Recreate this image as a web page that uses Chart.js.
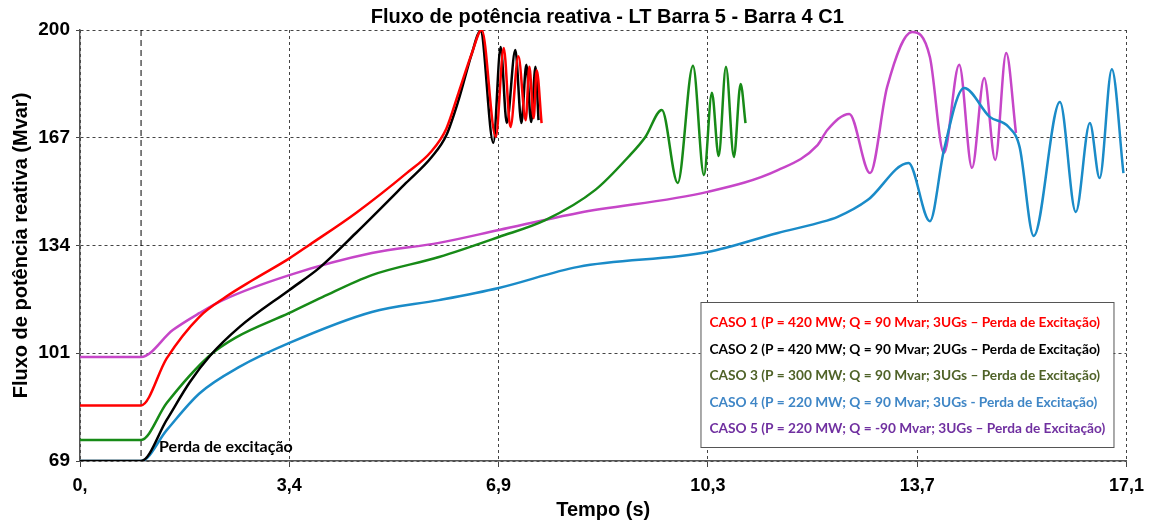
<!DOCTYPE html>
<html>
<head>
<meta charset="utf-8">
<script src="https://cdn.jsdelivr.net/npm/chart.js@4.4.1/dist/chart.umd.min.js"></script>
<style>
  html, body { margin: 0; padding: 0; background: #fff; }
  #wrap { width: 1152px; height: 522px; position: relative; }
</style>
</head>
<body>
<div id="wrap"><canvas id="chart"></canvas></div>
<script>
// eixos
const xTickValues = [0, 3.428, 6.856, 10.284, 13.712, 17.14];
const xTickLabels = ['0,', '3,4', '6,9', '10,3', '13,7', '17,1'];
const yTickValues = [69, 101.75, 134.5, 167.25, 200];
const yTickLabels = ['69', '101', '134', '167', '200'];
const eventTime = 1.0;
const eventLabel = 'Perda de excitação';
const chartTitle = 'Fluxo de potência reativa - LT Barra 5 - Barra 4 C1';

// CASO 1
const case1T = [0, 1.0, 1.42, 1.96, 2.39, 2.83, 3.43, 3.75, 4.52, 5.35, 5.75, 6.00, 6.20, 6.42, 6.58, 6.81, 6.94, 7.05, 7.18, 7.30, 7.36, 7.43, 7.48, 7.56];
const case1V = [85.9, 85.9, 100.2, 112.9, 118.9, 124.0, 130.6, 134.6, 144.4, 156.5, 163.0, 170.0, 180.9, 193.0, 200.0, 167.5, 194.5, 170.5, 192.0, 172.6, 188.8, 173.2, 187.8, 171.7];
// CASO 2
const case2T = [0, 1.0, 1.42, 1.80, 2.13, 2.61, 3.43, 3.92, 4.52, 5.34, 5.76, 6.00, 6.20, 6.42, 6.56, 6.77, 6.89, 6.99, 7.13, 7.23, 7.31, 7.39, 7.46, 7.51];
const case2V = [69, 69, 81.5, 93.0, 101.0, 109.7, 121.0, 127.7, 138.3, 153.5, 161.4, 168.0, 178.7, 193.0, 199.7, 165.7, 194.8, 171.7, 193.9, 171.7, 189.4, 172.0, 188.8, 172.6];
// CASO 3
const case3T = [0, 1.0, 1.42, 2.12, 2.55, 3.43, 3.97, 4.78, 5.88, 6.86, 7.62, 8.44, 8.98, 9.26, 9.53, 9.79, 10.04, 10.22, 10.35, 10.46, 10.58, 10.71, 10.82, 10.90];
const case3V = [75.4, 75.4, 86.6, 101.0, 106.5, 114.0, 118.8, 125.5, 131.0, 137.1, 142.2, 151.4, 161.4, 167.5, 175.7, 153.5, 189.1, 155.9, 180.9, 161.7, 188.8, 161.4, 183.6, 171.7];
// CASO 4
const case4T = [0, 1.0, 1.42, 1.96, 2.61, 3.43, 4.78, 5.88, 6.86, 8.16, 10.28, 11.43, 12.08, 12.41, 12.90, 13.57, 13.92, 14.15, 14.48, 14.90, 15.21, 15.39, 15.62, 16.05, 16.31, 16.54, 16.70, 16.90, 17.09];
const case4V = [69, 69, 78.4, 89.6, 97.6, 104.9, 114.3, 117.9, 121.6, 128.0, 132.5, 138.3, 141.3, 143.2, 148.3, 159.6, 141.9, 163.5, 182.4, 173.6, 170.5, 164.4, 137.4, 178.1, 144.7, 171.7, 155.0, 188.1, 156.5];
// CASO 5
const case5T = [0, 1.0, 1.52, 1.96, 2.34, 3.43, 4.78, 5.88, 6.86, 8.16, 10.28, 11.43, 12.08, 12.24, 12.60, 12.94, 13.22, 13.63, 13.92, 14.15, 14.40, 14.61, 14.81, 14.99, 15.17, 15.33];
const case5V = [100.6, 100.6, 108.8, 114.0, 117.9, 125.5, 132.2, 135.3, 139.2, 144.4, 150.8, 157.4, 165.0, 169.6, 174.5, 156.5, 182.7, 199.4, 191.8, 162.6, 189.4, 158.1, 185.4, 160.5, 193.0, 168.7];

const caseLabels = [
    'CASO 1 (P = 420 MW; Q = 90 Mvar; 3UGs \u2013 Perda de Excitação)',
    'CASO 2 (P = 420 MW; Q = 90 Mvar; 2UGs \u2013 Perda de Excitação)',
    'CASO 3 (P = 300 MW; Q = 90 Mvar; 3UGs \u2013 Perda de Excitação)',
    'CASO 4 (P = 220 MW; Q = 90 Mvar; 3UGs - Perda de Excitação)',
    'CASO 5 (P = 220 MW; Q = -90 Mvar; 3UGs \u2013 Perda de Excitação)'
];
const lineColors = ['#ff0000', '#000000', '#178a17', '#1a8bc8', '#c646c8'];
const legendColors = ['#ff0000', '#000000', '#4f6228', '#3f86c6', '#7030a0'];

const FONT = 'Liberation Sans, Arial, sans-serif';

function toPoints(ts, vs) {
    return ts.map((t, i) => ({ x: t, y: vs[i] }));
}

const series = [
    toPoints(case1T, case1V),
    toPoints(case2T, case2V),
    toPoints(case3T, case3V),
    toPoints(case4T, case4V),
    toPoints(case5T, case5V)
];

const overlayPlugin = {
    id: 'overlay',
    beforeDatasetsDraw(chart) {
        const { ctx, chartArea, scales } = chart;
        const x = scales.x.getPixelForValue(eventTime);
        ctx.save();
        ctx.strokeStyle = '#000';
        ctx.lineWidth = 1;
        ctx.setLineDash([6, 4]);
        ctx.beginPath();
        ctx.moveTo(x, chartArea.top);
        ctx.lineTo(x, chartArea.bottom);
        ctx.stroke();
        ctx.restore();
    },
    afterDatasetsDraw(chart) {
        const { ctx, chartArea, scales } = chart;
        const x = scales.x.getPixelForValue(eventTime);
        ctx.save();
        // titulo centrado na area do grafico
        ctx.fillStyle = '#000';
        ctx.font = 'bold 20px ' + FONT;
        ctx.textAlign = 'center';
        ctx.textBaseline = 'middle';
        ctx.fillText(chartTitle, (chartArea.left + chartArea.right) / 2 + 4, chartArea.top - 13);

        // texto do evento
        ctx.font = 'bold 16px Lato, sans-serif';
        ctx.textAlign = 'left';
        ctx.fillText(eventLabel, x + 18, chartArea.bottom - 14);

        // caixa da legenda
        const w = 413, h = 145;
        const left = chartArea.right - 426;
        const top = chartArea.top + 272;
        ctx.fillStyle = '#fff';
        ctx.fillRect(left, top, w, h);
        ctx.strokeStyle = '#555';
        ctx.lineWidth = 1;
        ctx.strokeRect(left + 0.5, top + 0.5, w, h);
        ctx.font = 'bold 13.7px Lato, sans-serif';
        caseLabels.forEach((label, i) => {
            ctx.fillStyle = legendColors[i];
            ctx.fillText(label, left + 9, top + 21 + i * 26.5);
        });
        ctx.restore();
    }
};

new Chart(document.getElementById('chart'), {
    type: 'line',
    data: {
        datasets: series.map((pts, i) => ({
            label: caseLabels[i],
            data: pts,
            borderColor: lineColors[i],
            backgroundColor: lineColors[i],
            borderWidth: 2.5,
            pointRadius: 0,
            fill: false,
            cubicInterpolationMode: 'monotone'
        }))
    },
    options: {
        responsive: true,
        maintainAspectRatio: false,
        animation: false,
        layout: { padding: { left: 0, right: 22, top: 30, bottom: 0 } },
        plugins: {
            legend: { display: false },
            tooltip: { enabled: false },
            title: { display: false }
        },
        scales: {
            x: {
                type: 'linear',
                min: xTickValues[0],
                max: xTickValues[xTickValues.length - 1],
                afterBuildTicks: s => { s.ticks = xTickValues.map(v => ({ value: v })); },
                afterFit: s => { s.height = 61; },
                ticks: {
                    callback: (v, i) => xTickLabels[i],
                    color: '#000',
                    font: { family: FONT, size: 18, weight: 'bold' },
                    padding: 8,
                    maxRotation: 0,
                    autoSkip: false
                },
                grid: { color: '#444', lineWidth: 1, tickLength: 6, tickColor: '#444', tickBorderDash: [] },
                border: { display: true, color: '#555', width: 1.5, dash: [3, 3] },
                title: {
                    display: true,
                    text: 'Tempo (s)',
                    color: '#000',
                    font: { family: FONT, size: 20, weight: 'bold' },
                    padding: { top: 0, bottom: 0 }
                }
            },
            y: {
                type: 'linear',
                min: yTickValues[0],
                max: yTickValues[yTickValues.length - 1],
                afterBuildTicks: s => { s.ticks = yTickValues.map(v => ({ value: v })); },
                afterFit: s => { s.width = 80; },
                ticks: {
                    callback: (v, i) => yTickLabels[i],
                    color: '#000',
                    font: { family: FONT, size: 19, weight: 'bold' },
                    padding: 6,
                    autoSkip: false
                },
                grid: { color: '#444', lineWidth: 1, tickLength: 4, tickColor: '#444', tickBorderDash: [] },
                border: { display: true, color: '#555', width: 1.5, dash: [3, 3] },
                title: {
                    display: true,
                    text: 'Fluxo de potência reativa (Mvar)',
                    color: '#000',
                    font: { family: FONT, size: 20, weight: 'bold' },
                    padding: { top: 9, bottom: 0 }
                }
            }
        }
    },
    plugins: [overlayPlugin]
});
</script>
</body>
</html>
